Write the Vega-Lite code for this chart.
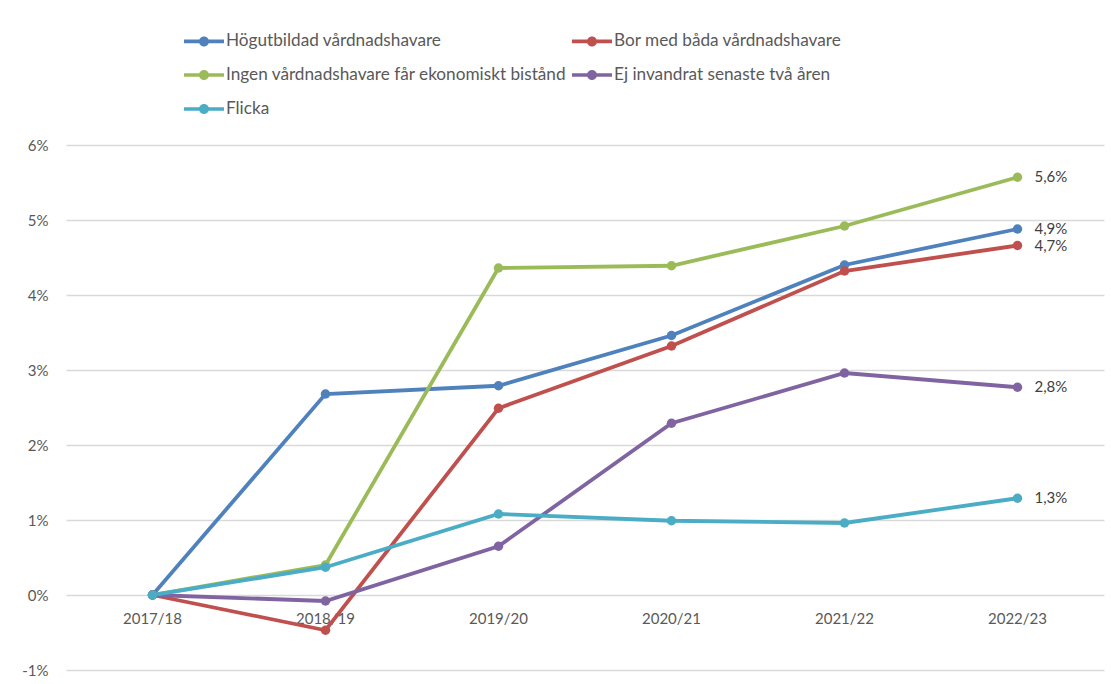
{
  "$schema": "https://vega.github.io/schema/vega-lite/v6.json",
  "width": 1038,
  "height": 525,
  "autosize": {"type": "none"},
  "padding": {"left": 66, "top": 145, "right": 7, "bottom": 14},
  "background": "white",
  "config": {
    "view": {"stroke": null},
    "font": "Lato",
    "locale": {
      "number": {"decimal": ",", "thousands": " ", "grouping": [3], "currency": ["", " kr"], "minus": "-"}
    },
    "axis": {"labelFont": "Lato", "labelColor": "#595959", "labelFontSize": 15}
  },
  "data": {
    "values": [
      {"ar": "2017/18", "grupp": "Högutbildad vårdnadshavare", "v": 0},
      {"ar": "2018/19", "grupp": "Högutbildad vårdnadshavare", "v": 0.0268},
      {"ar": "2019/20", "grupp": "Högutbildad vårdnadshavare", "v": 0.0279},
      {"ar": "2020/21", "grupp": "Högutbildad vårdnadshavare", "v": 0.0346},
      {"ar": "2021/22", "grupp": "Högutbildad vårdnadshavare", "v": 0.0440},
      {"ar": "2022/23", "grupp": "Högutbildad vårdnadshavare", "v": 0.0488},
      {"ar": "2017/18", "grupp": "Bor med båda vårdnadshavare", "v": 0},
      {"ar": "2018/19", "grupp": "Bor med båda vårdnadshavare", "v": -0.0047},
      {"ar": "2019/20", "grupp": "Bor med båda vårdnadshavare", "v": 0.0249},
      {"ar": "2020/21", "grupp": "Bor med båda vårdnadshavare", "v": 0.0332},
      {"ar": "2021/22", "grupp": "Bor med båda vårdnadshavare", "v": 0.0432},
      {"ar": "2022/23", "grupp": "Bor med båda vårdnadshavare", "v": 0.0466},
      {"ar": "2017/18", "grupp": "Ingen vårdnadshavare får ekonomiskt bistånd", "v": 0},
      {"ar": "2018/19", "grupp": "Ingen vårdnadshavare får ekonomiskt bistånd", "v": 0.0040},
      {"ar": "2019/20", "grupp": "Ingen vårdnadshavare får ekonomiskt bistånd", "v": 0.0436},
      {"ar": "2020/21", "grupp": "Ingen vårdnadshavare får ekonomiskt bistånd", "v": 0.0439},
      {"ar": "2021/22", "grupp": "Ingen vårdnadshavare får ekonomiskt bistånd", "v": 0.0492},
      {"ar": "2022/23", "grupp": "Ingen vårdnadshavare får ekonomiskt bistånd", "v": 0.0557},
      {"ar": "2017/18", "grupp": "Ej invandrat senaste två åren", "v": 0},
      {"ar": "2018/19", "grupp": "Ej invandrat senaste två åren", "v": -0.0008},
      {"ar": "2019/20", "grupp": "Ej invandrat senaste två åren", "v": 0.0065},
      {"ar": "2020/21", "grupp": "Ej invandrat senaste två åren", "v": 0.0229},
      {"ar": "2021/22", "grupp": "Ej invandrat senaste två åren", "v": 0.0296},
      {"ar": "2022/23", "grupp": "Ej invandrat senaste två åren", "v": 0.0277},
      {"ar": "2017/18", "grupp": "Flicka", "v": 0},
      {"ar": "2018/19", "grupp": "Flicka", "v": 0.0037},
      {"ar": "2019/20", "grupp": "Flicka", "v": 0.0108},
      {"ar": "2020/21", "grupp": "Flicka", "v": 0.0099},
      {"ar": "2021/22", "grupp": "Flicka", "v": 0.0096},
      {"ar": "2022/23", "grupp": "Flicka", "v": 0.0129}
    ]
  },
  "encoding": {
    "x": {
      "field": "ar", "type": "ordinal",
      "scale": {"type": "band", "paddingInner": 0, "paddingOuter": 0},
      "axis": {"title": null, "domain": false, "ticks": false, "labelAngle": 0, "offset": -75, "labelPadding": 16, "grid": false}
    },
    "y": {
      "field": "v", "type": "quantitative",
      "scale": {"domain": [-0.01, 0.06], "nice": false, "zero": false},
      "axis": {"title": null, "format": ".0%", "values": [-0.01, 0, 0.01, 0.02, 0.03, 0.04, 0.05, 0.06], "labelOverlap": false, "domain": false, "ticks": false, "labelPadding": 18, "gridColor": "#d9d9d9", "gridWidth": 1.3}
    },
    "color": {
      "field": "grupp", "type": "nominal",
      "scale": {
        "domain": ["Högutbildad vårdnadshavare", "Ingen vårdnadshavare får ekonomiskt bistånd", "Flicka", "Bor med båda vårdnadshavare", "Ej invandrat senaste två åren"],
        "range": ["#4F81BD", "#9BBB59", "#4BACC6", "#C0504D", "#8064A2"]
      },
      "legend": {
        "title": null, "orient": "none", "legendX": 118, "legendY": -124, "columns": 2, "columnPadding": 5, "rowPadding": 5,
        "symbolType": "M-1,-0.09L1,-0.09L1,0.09L-1,0.09Z M0.25,0A0.25,0.25 0 1,1 -0.25,0A0.25,0.25 0 1,1 0.25,0Z",
        "symbolSize": 1600, "symbolStrokeWidth": 0, "symbolOpacity": 1,
        "labelFont": "Lato", "labelFontSize": 17.2, "labelColor": "#595959", "labelOffset": 2, "labelLimit": 500
      }
    }
  },
  "layer": [
    {"mark": {"type": "line", "strokeWidth": 3.8}},
    {"mark": {"type": "point", "filled": true, "opacity": 1, "size": 90}},
    {
      "transform": [{"filter": "datum.ar == '2022/23'"}],
      "mark": {"type": "text", "align": "left", "dx": 17, "fontSize": 15, "font": "Lato", "color": "#404040"},
      "encoding": {"text": {"field": "v", "type": "quantitative", "format": ".1%"}, "color": {"value": "#404040"}}
    }
  ]
}
